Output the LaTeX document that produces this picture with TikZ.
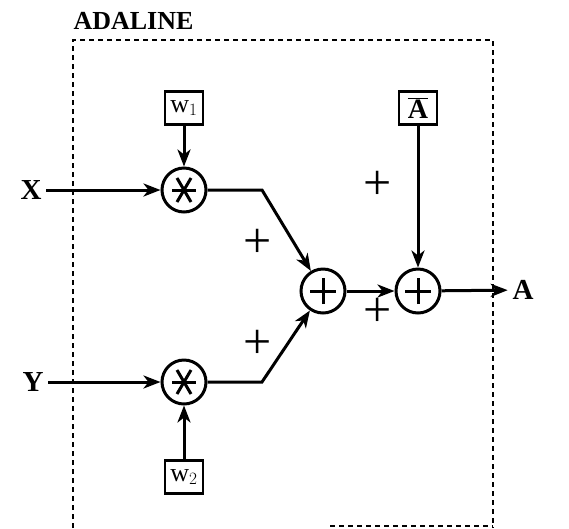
\documentclass[tikz,border=0pt]{standalone}
\usepackage{fontspec}
\setmainfont{Liberation Serif}
\usetikzlibrary{arrows.meta}
\begin{document}
\begin{tikzpicture}[x=1pt,y=-1pt,
  line width=3pt,
  arr/.style={-{Stealth[length=17pt,width=13pt,inset=5pt]}},
  op/.style={circle,draw,minimum size=44pt,inner sep=0pt},
  wbox/.style={draw,line width=2.6pt,minimum width=38pt,minimum height=33pt,inner sep=0pt,font=\fontsize{26}{28}\selectfont},
  lbl/.style={font=\fontsize{29}{30}\selectfont\bfseries},
  sgn/.style={font=\fontsize{50}{50}\selectfont}]
\useasboundingbox (0,0) rectangle (569,528);
% dashed frame
\draw[line width=1.8pt,dash pattern=on 5pt off 4pt] (73,528) -- (73,40) -- (493,40) -- (493,528);
\draw[line width=1.8pt,dash pattern=on 5pt off 4pt] (330,526) -- (493,526);
\node[font=\fontsize{26}{28}\selectfont\bfseries,anchor=west,inner sep=0pt] (title) at (72,21) {ADALINE};
% nodes
\node[wbox] (w1) at (184,108) {w$_1$};
\node[wbox] (w2) at (184,477) {w$_2$};
\node[wbox,font=\fontsize{28}{30}\selectfont\bfseries] (abar) at (418,108) {$\overline{\mbox{A}}$};
\node[op] (m1) at (184,190) {};
\node[op] (m2) at (184,382) {};
\node[op] (s1) at (323,291) {};
\node[op] (s2) at (418,291) {};
% symbols inside
\foreach \n in {m1,m2}{
  \draw ([xshift=-12pt]\n.center) -- ([xshift=12pt]\n.center);
  \draw ([shift={(-7pt,-12pt)}]\n.center) -- ([shift={(7pt,12pt)}]\n.center);
  \draw ([shift={(7pt,-12pt)}]\n.center) -- ([shift={(-7pt,12pt)}]\n.center);
}
\foreach \n in {s1,s2}{
  \draw[line width=3pt] ([xshift=-13pt]\n.center) -- ([xshift=13pt]\n.center);
  \draw[line width=3pt] ([yshift=-13pt]\n.center) -- ([yshift=13pt]\n.center);
}
\node[lbl] (X) at (31,190) {X};
\node[lbl] (Y) at (33,382) {Y};
\node[lbl] (A) at (523,290) {A};
\coordinate (k1) at (262,190);
\coordinate (k2) at (262,382);
% connectors
\draw[arr] (X) -- (m1);
\draw[arr] (Y) -- (m2);
\draw[arr] (w1) -- (m1);
\draw[arr] (w2) -- (m2);
\draw[arr] (m1) -- (k1) -- (s1);
\draw[arr] (m2) -- (k2) -- (s1);
\draw[arr] (s1) -- (s2);
\draw[arr] (abar) -- (s2);
\draw[arr] (s2) -- (A);
% signs
\node[sgn] (p1) at (258,243) {+};
\node[sgn] (p2) at (258,344) {+};
\node[sgn] (p3) at (378,312) {+};
\node[sgn] (p4) at (378,185) {+};
\end{tikzpicture}
\end{document}
